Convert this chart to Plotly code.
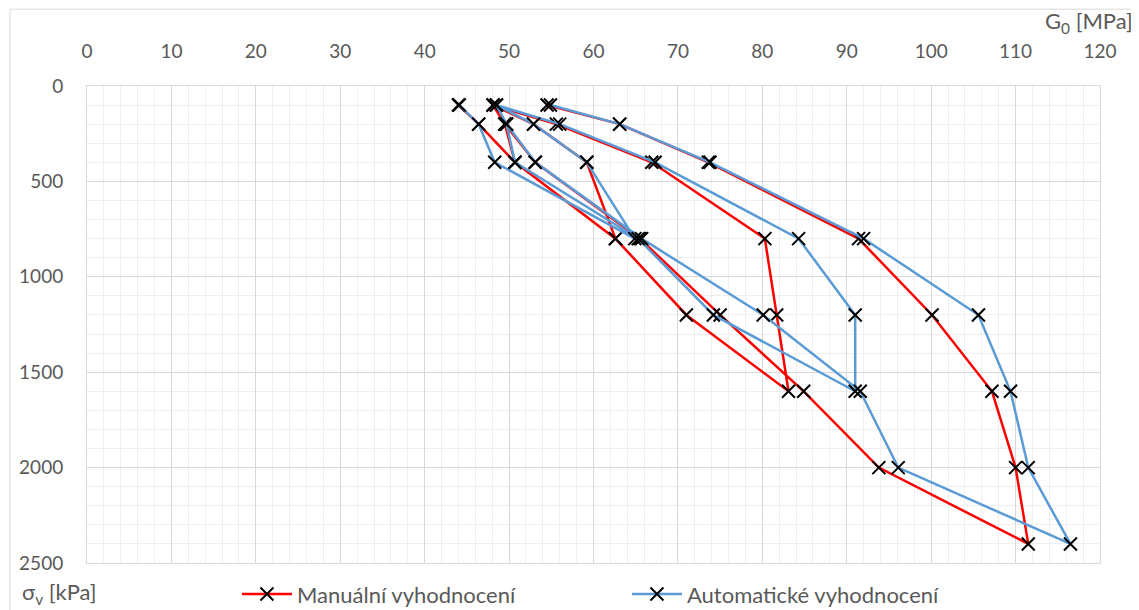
import plotly.graph_objects as go

# Stress levels (kPa) in test order (3 loading/unloading cycles), shared by both evaluations
sigma_v = [100, 200, 400, 800, 400, 200, 100,
           200, 400, 800, 1200, 1600, 1200, 800, 400, 200, 100,
           200, 400, 800, 1200, 1600, 2000, 2400, 2000, 1600, 1200, 800, 400, 200, 100]

# G0 (MPa) - manual evaluation
g0_manual = [44.0, 46.4, 50.7, 62.6, 59.2, 52.9, 48.1,
             49.5, 50.7, 62.6, 71.0, 83.1, 81.7, 80.3, 66.9, 55.6, 48.1,
             49.5, 53.1, 65.5, 75.0, 84.9, 93.8, 111.5, 110.0, 107.2, 100.1, 91.4, 73.6, 63.1, 54.5]

# G0 (MPa) - automatic evaluation
g0_auto = [44.1, 46.4, 48.3, 64.9, 59.2, 52.9, 48.5,
           49.7, 50.7, 65.3, 74.2, 91.0, 91.0, 84.3, 67.3, 56.0, 48.5,
           49.7, 53.1, 65.7, 80.1, 91.6, 96.1, 116.5, 111.5, 109.4, 105.6, 92.0, 73.8, 63.1, 54.9]

x_ticks = [0, 10, 20, 30, 40, 50, 60, 70, 80, 90, 100, 110, 120]
y_ticks = [0, 500, 1000, 1500, 2000, 2500]

series_names = ["Manuální vyhodnocení", "Automatické vyhodnocení"]
series_colors = ["#ff0000", "#5b9bd5"]

FONT = "Lato, 'Open Sans', sans-serif"
TXT = "#595959"

fig = go.Figure()
for name, color, g in zip(series_names, series_colors, [g0_manual, g0_auto]):
    fig.add_trace(go.Scatter(
        x=g, y=sigma_v, name=name, mode="lines+markers",
        line=dict(color=color, width=2.5),
        marker=dict(symbol="x-thin", size=13, color="black",
                    line=dict(width=2, color="black")),
    ))

fig.update_layout(
    width=1139, height=610,
    margin=dict(l=79, r=47, t=78, b=55, autoexpand=False),
    paper_bgcolor="white", plot_bgcolor="white",
    font=dict(family=FONT, size=19, color=TXT),
    showlegend=True,
    legend=dict(orientation="h", xref="container", yref="container",
                x=0.201, xanchor="left", y=0.039, yanchor="middle",
                itemwidth=50,
                entrywidth=325, entrywidthmode="pixels",
                font=dict(family=FONT, size=22, color=TXT),
                bgcolor="rgba(0,0,0,0)"),
    xaxis=dict(side="top", range=[0, 120], tickvals=x_ticks,
               showgrid=True, gridcolor="#d9d9d9", gridwidth=1,
               minor=dict(dtick=2, showgrid=True, gridcolor="#efefef", gridwidth=1),
               showline=True, linecolor="#d9d9d9", mirror=True,
               ticks="outside", ticklen=19, tickcolor="rgba(0,0,0,0)",
               zeroline=False, tickfont=dict(size=19)),
    yaxis=dict(range=[2500, 0], tickvals=y_ticks,
               showgrid=True, gridcolor="#d9d9d9", gridwidth=1,
               minor=dict(dtick=100, showgrid=True, gridcolor="#efefef", gridwidth=1),
               showline=True, linecolor="#d9d9d9", mirror=True,
               ticks="outside", ticklen=19, tickcolor="rgba(0,0,0,0)",
               zeroline=False, tickfont=dict(size=19)),
    annotations=[
        dict(text="G<sub>0</sub> [MPa]", xref="paper", yref="paper", x=1.0346, y=1.134,
             xanchor="right", yanchor="middle", showarrow=False,
             font=dict(family=FONT, size=22, color=TXT)),
        dict(text="σ<sub>v</sub> [kPa]", xref="paper", yref="paper", x=-0.066, y=-0.063,
             xanchor="left", yanchor="middle", showarrow=False,
             font=dict(family=FONT, size=22, color=TXT)),
    ],
    shapes=[dict(type="rect", xref="paper", yref="paper", x0=-0.076, x1=1.1, y0=-0.2, y1=1.161,
                 line=dict(color="#d9d9d9", width=1), layer="below")],
)

fig.write_html("out.html")
